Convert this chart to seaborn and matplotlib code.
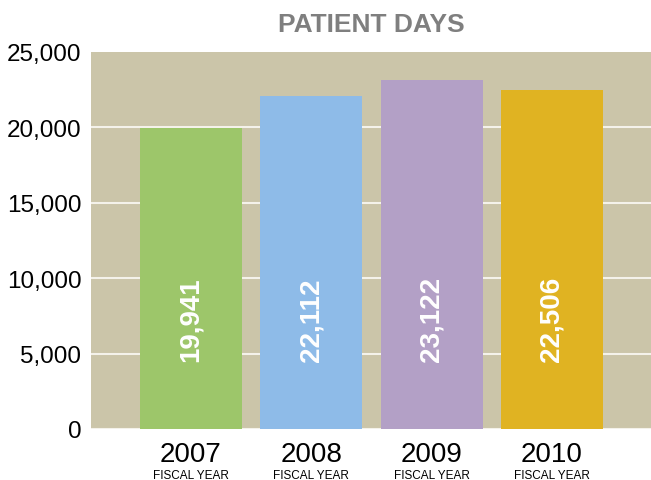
import matplotlib
matplotlib.use("Agg")
import matplotlib.pyplot as plt
import matplotlib.transforms as mtransforms
import pandas as pd
import seaborn as sns

years = ["2007", "2008", "2009", "2010"]
patient_days = [19941, 22112, 23122, 22506]
bar_colors = ["#9DC66A", "#8EBBE8", "#B3A0C6", "#E0B322"]
y_ticks = [0, 5000, 10000, 15000, 20000, 25000]
y_tick_labels = ["0", "5,000", "10,000", "15,000", "20,000", "25,000"]
sub_label = "FISCAL YEAR"
title = "PATIENT DAYS"

sns.set_theme(style="white")
plt.rcParams["font.family"] = ["Liberation Sans", "DejaVu Sans"]

df = pd.DataFrame({"year": years, "days": patient_days})

fig = plt.figure(figsize=(6.51, 4.81), dpi=100)
ax = fig.add_axes([91 / 651, 51 / 481, 1 - 91 / 651, 377 / 481])
ax.set_facecolor("#CBC5A9")

sns.barplot(data=df, x="year", y="days", hue="year", palette=bar_colors,
            width=0.85, legend=False, saturation=1, linewidth=0,
            ax=ax, zorder=3)

ax.set_ylim(0, 25000)
ax.set_xlim(-0.831, 3.823)
ax.set_yticks(y_ticks)
ax.set_yticklabels(y_tick_labels, fontsize=17.5, color="black")
ax.set_xticks(range(len(years)))
ax.set_xticklabels(years, fontsize=20, color="black")
ax.tick_params(axis="y", length=0, pad=7)
ax.tick_params(axis="x", length=0, pad=8.5)
ax.grid(axis="y", color="#F4F2EA", linewidth=1.5, zorder=1)
ax.yaxis.get_gridlines()[-1].set_visible(False)
ax.set_axisbelow(True)
for s in ax.spines.values():
    s.set_visible(False)
ax.set_xlabel("")
ax.set_ylabel("")

# value labels inside bars
for i, v in enumerate(patient_days):
    ax.text(i, 4500, f"{v:,}", rotation=90, ha="center", va="bottom",
            color="white", fontsize=20, fontweight="bold", zorder=5)

# "FISCAL YEAR" under each year
trans = mtransforms.blended_transform_factory(ax.transData, ax.transAxes)
for i in range(len(years)):
    ax.text(i, -0.106, sub_label, transform=trans, ha="center", va="top",
            fontsize=8.5, color="black")

ax.set_title(title, fontsize=19, fontweight="bold", color="#7F7F7F", pad=15)

fig.savefig("out.png", dpi=100)
